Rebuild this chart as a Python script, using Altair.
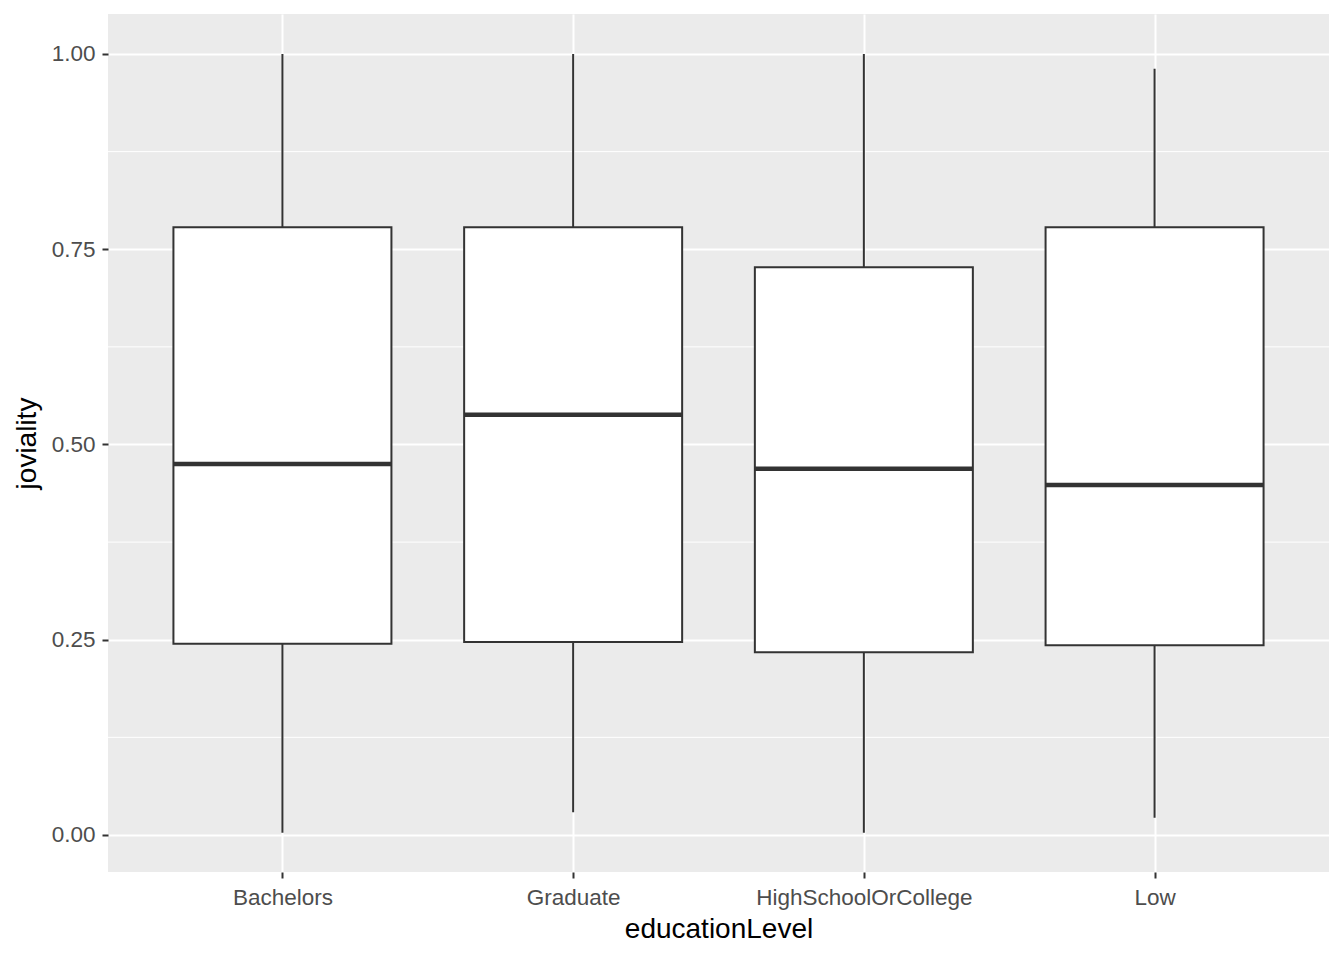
import altair as alt
import pandas as pd

categories = ["Bachelors", "Graduate", "HighSchoolOrCollege", "Low"]
lower = [0.003, 0.029, 0.003, 0.022]
q1 = [0.245, 0.247, 0.234, 0.243]
median = [0.475, 0.538, 0.469, 0.448]
q3 = [0.778, 0.778, 0.727, 0.778]
upper = [1.00, 1.00, 1.00, 0.981]
minor_grid = [0.125, 0.375, 0.625, 0.875]
major_ticks = [0.0, 0.25, 0.5, 0.75, 1.0]

df = pd.DataFrame({"educationLevel": categories, "lower": lower, "q1": q1,
                   "median": median, "q3": q3, "upper": upper})
grid_df = pd.DataFrame({"g": minor_grid})

W, H = 1221, 858
BOXW = 218
DARK = "#333333"
FONT = "Liberation Sans"

xscale = alt.Scale(type="point", padding=0.6, domain=categories)
yscale = alt.Scale(domain=[-0.0474, 1.0512], nice=False, zero=False)

xenc = alt.X("educationLevel:N", scale=xscale, sort=categories,
             axis=alt.Axis(title="educationLevel", labelAngle=0, grid=True,
                           gridColor="white", gridWidth=2, domain=False,
                           tickColor=DARK, tickSize=6, tickWidth=2,
                           labelColor="#4D4D4D", labelFontSize=22.5, labelPadding=8,
                           labelLimit=400,
                           titleFontSize=28, titleFontWeight="normal",
                           titleColor="black", titlePadding=7,
                           labelFont=FONT, titleFont=FONT))
yaxis = alt.Axis(title="joviality", values=major_ticks, format=".2f", grid=True,
                 gridColor="white", gridWidth=2, domain=False,
                 tickColor=DARK, tickSize=6, tickWidth=2,
                 labelColor="#4D4D4D", labelFontSize=22.5, labelPadding=7,
                 titleFontSize=28, titleFontWeight="normal", titleColor="black",
                 titlePadding=10, labelFont=FONT, titleFont=FONT)

minor = alt.Chart(grid_df).mark_rule(color="white", strokeWidth=1).encode(
    y=alt.Y("g:Q", scale=yscale, axis=yaxis))

base = alt.Chart(df)
whisk = base.mark_rule(color=DARK, strokeWidth=2).encode(
    x=xenc,
    y=alt.Y("lower:Q", scale=yscale, axis=yaxis),
    y2="upper:Q")
box = base.mark_bar(size=BOXW, fill="white", stroke=DARK, strokeWidth=2,
                    opacity=1).encode(
    x=xenc,
    y=alt.Y("q1:Q", scale=yscale, axis=yaxis),
    y2="q3:Q")
med = base.mark_tick(color=DARK, size=BOXW, thickness=4.5, orient="horizontal",
                     opacity=1).encode(
    x=xenc,
    y=alt.Y("median:Q", scale=yscale, axis=yaxis))

chart = alt.layer(minor, whisk, box, med).properties(
    width=W, height=H,
    background="white",
    autosize=alt.AutoSizeParams(type="none"),
    padding={"left": 100, "top": 6, "right": 7, "bottom": 80},
).configure_view(fill="#EBEBEB", stroke=None)

chart.save("out.html", embed_options={"renderer": "svg", "actions": False})
